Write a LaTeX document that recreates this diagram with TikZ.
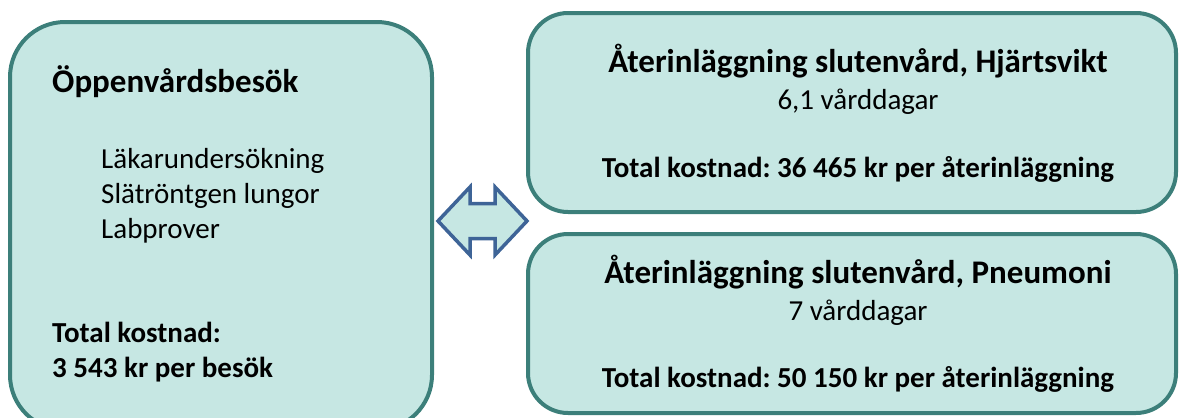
\documentclass[tikz,border=0pt]{standalone}
\usepackage{fontspec}
\setmainfont{Carlito}
\frenchspacing
\definecolor{boxfill}{HTML}{C6E7E3}
\definecolor{boxline}{HTML}{3C7F7A}
\definecolor{arrline}{HTML}{3E6497}
\begin{document}
\begin{tikzpicture}[x=1pt,y=-1pt,
  card/.style={draw=boxline, fill=boxfill, line width=4pt, rounded corners=#1, inner sep=0pt},
  titletxt/.style={font=\fontsize{33}{38}\selectfont\bfseries, inner sep=0pt},
  bodytxt/.style={font=\fontsize{29}{34}\selectfont, inner sep=0pt},
  costtxt/.style={font=\fontsize{29}{34}\selectfont\bfseries, inner sep=0pt}]
\useasboundingbox (0,0) rectangle (1179,418);
\begin{scope}
\clip (0,0) rectangle (1179,418);
\node[card=55pt, minimum width=422pt, minimum height=408pt] (left) at (221,226) {};
\node[card=40pt, minimum width=648pt, minimum height=199pt] (top) at (852,112.5) {};
\node[card=40pt, minimum width=648pt, minimum height=179pt] (bot) at (852,323.5) {};
% left texts
\node[titletxt, anchor=base west] (lt) at (52,92) {Öppenvårdsbesök};
\node[bodytxt, anchor=base west] (l1) at (101,168) {Läkarundersökning};
\node[bodytxt, anchor=base west] (l2) at (101,203) {Slätröntgen lungor};
\node[bodytxt, anchor=base west] (l3) at (101,238) {Labprover};
\node[costtxt, anchor=base west] (lc1) at (52,342) {Total kostnad:};
\node[costtxt, anchor=base west] (lc2) at (52,377) {3 543 kr per besök};
% top right texts
\node[titletxt, anchor=base] (tt) at (858,72) {Återinläggning slutenvård, Hjärtsvikt};
\node[bodytxt, anchor=base] (td) at (858,109) {6,1 vårddagar};
\node[costtxt, anchor=base] (tc) at (858,177) {Total kostnad: 36 465 kr per återinläggning};
% bottom right texts
\node[titletxt, anchor=base] (bt) at (858,283) {Återinläggning slutenvård, Pneumoni};
\node[bodytxt, anchor=base] (bd) at (858,320) {7 vårddagar};
\node[costtxt, anchor=base] (bc) at (858,387) {Total kostnad: 50 150 kr per återinläggning};
% double arrow
\coordinate (al) at (438,221);
\coordinate (ar) at (527,221);
\draw[draw=arrline, fill=boxfill, line width=3.5pt, line join=miter]
  (al) -- (470,187) -- (470,203.5) -- (495,203.5) -- (495,187) -- (ar)
  -- (495,255) -- (495,238.5) -- (470,238.5) -- (470,255) -- cycle;
\end{scope}
\end{tikzpicture}
\end{document}
